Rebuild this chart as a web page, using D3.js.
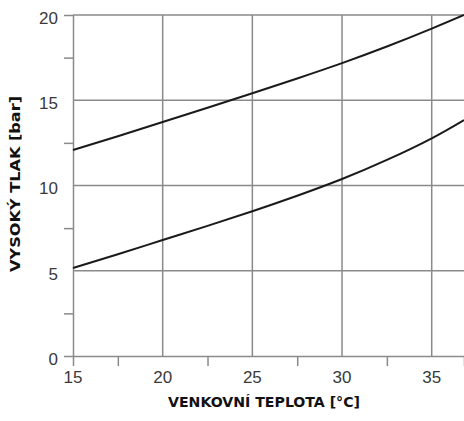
<!DOCTYPE html>
<html>
<head>
<meta charset="utf-8">
<script src="https://cdn.jsdelivr.net/npm/d3@7"></script>
<style>
  body { margin: 0; background: #fff; }
  svg { display: block; }
</style>
</head>
<body>
<div id="chart"></div>
<script>
// values
var temps = [15, 17.5, 20, 22.5, 25, 27.5, 30, 32.5, 35, 36.8];
var upperPressure = [12.08, 12.89, 13.72, 14.56, 15.41, 16.28, 17.18, 18.15, 19.2, 20.0];
var lowerPressure = [5.16, 5.97, 6.8, 7.63, 8.49, 9.4, 10.38, 11.5, 12.77, 13.84];
var xTicks = [15, 20, 25, 30, 35];
var xMinor = [17.5, 22.5, 27.5, 32.5];
var yTicks = [0, 5, 10, 15, 20];
var yMinor = [2.5, 7.5, 12.5, 17.5];

var svgWidth = 464;
var svgHeight = 421;
var margin = { top: 15, right: 0, bottom: 65, left: 73 };
var width = svgWidth - margin.left - margin.right;
var height = svgHeight - margin.top - margin.bottom;

var svg = d3.select("#chart")
    .append("svg")
    .attr("width", svgWidth)
    .attr("height", svgHeight);

var chartGroup = svg.append("g")
    .attr("transform", `translate(${margin.left}, ${margin.top})`);

var xScale = d3.scaleLinear()
    .domain([15, 36.8])
    .range([0, width]);

var yScale = d3.scaleLinear()
    .domain([0, 20])
    .range([height, 0]);

var gridColor = "#8a8a8a";

// grid lines
chartGroup.selectAll(".vgrid")
    .data(xTicks.slice(1))
    .enter()
    .append("line")
    .attr("x1", d => xScale(d))
    .attr("x2", d => xScale(d))
    .attr("y1", 0)
    .attr("y2", height)
    .attr("stroke", gridColor)
    .attr("stroke-width", 1.5);

chartGroup.selectAll(".hgrid")
    .data(yTicks.slice(1))
    .enter()
    .append("line")
    .attr("x1", 0)
    .attr("x2", width)
    .attr("y1", d => yScale(d))
    .attr("y2", d => yScale(d))
    .attr("stroke", gridColor)
    .attr("stroke-width", 1.5);

// axes
var leftAxis = d3.axisLeft(yScale)
    .tickValues(yMinor)
    .tickSize(9)
    .tickFormat("");

var bottomAxis = d3.axisBottom(xScale)
    .tickValues(xMinor)
    .tickSize(10)
    .tickFormat("");

var yAxisG = chartGroup.append("g").call(leftAxis);
var xAxisG = chartGroup.append("g")
    .attr("transform", `translate(0, ${height})`)
    .call(bottomAxis);

[yAxisG, xAxisG].forEach(function (g) {
    g.select(".domain").attr("stroke", gridColor).attr("stroke-width", 1.5);
    g.selectAll(".tick line").attr("stroke", gridColor).attr("stroke-width", 1.5);
});

// tick labels
chartGroup.selectAll(".ylab")
    .data(yTicks)
    .enter()
    .append("text")
    .attr("x", -15)
    .attr("y", d => yScale(d) + 3)
    .attr("dy", "0.35em")
    .attr("text-anchor", "end")
    .attr("font-family", "Liberation Sans, Arial, sans-serif")
    .attr("font-size", 17)
    .attr("fill", "#3a3a3a")
    .text(d => d);

chartGroup.selectAll(".xlab")
    .data(xTicks)
    .enter()
    .append("text")
    .attr("x", d => xScale(d))
    .attr("y", height + 21)
    .attr("dy", "0.35em")
    .attr("text-anchor", "middle")
    .attr("font-family", "Liberation Sans, Arial, sans-serif")
    .attr("font-size", 17)
    .attr("fill", "#3a3a3a")
    .text(d => d);

// curves
var pressureLine = d3.line()
    .x((d, i) => xScale(temps[i]))
    .y(d => yScale(d))
    .curve(d3.curveNatural);

[upperPressure, lowerPressure].forEach(function (series) {
    chartGroup.append("path")
        .datum(series)
        .attr("d", pressureLine)
        .attr("fill", "none")
        .attr("stroke", "#1a1a1a")
        .attr("stroke-width", 2);
});

// axis titles
svg.append("text")
    .attr("x", 264)
    .attr("y", 407)
    .attr("text-anchor", "middle")
    .attr("font-family", "Liberation Sans Narrow, DejaVu Sans Condensed, Arial, sans-serif")
    .attr("font-weight", "bold")
    .attr("font-size", 14)
    .attr("textLength", 192)
    .attr("lengthAdjust", "spacingAndGlyphs")
    .attr("fill", "#111")
    .text("VENKOVNÍ TEPLOTA [°C]");

svg.append("text")
    .attr("transform", "translate(20, 184) rotate(-90)")
    .attr("text-anchor", "middle")
    .attr("font-family", "Liberation Sans Narrow, DejaVu Sans Condensed, Arial, sans-serif")
    .attr("font-weight", "bold")
    .attr("font-size", 14)
    .attr("textLength", 176)
    .attr("lengthAdjust", "spacingAndGlyphs")
    .attr("fill", "#111")
    .text("VYSOKÝ TLAK [bar]");
</script>
</body>
</html>
